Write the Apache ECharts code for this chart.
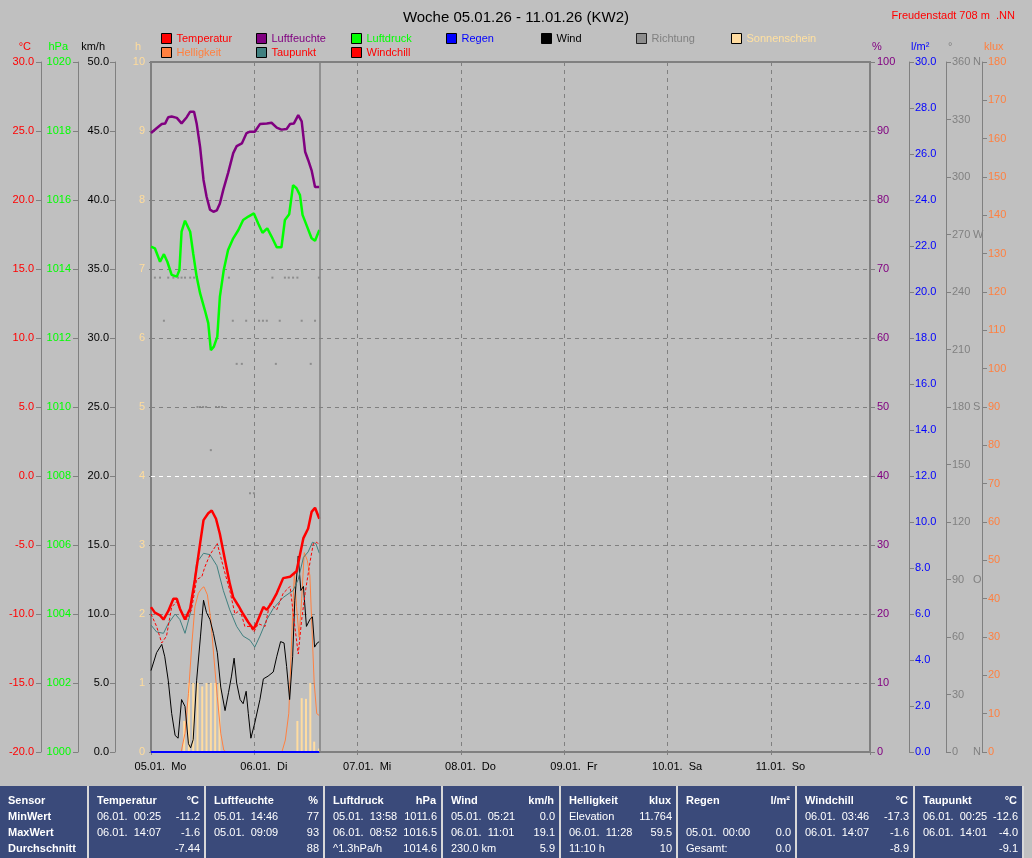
<!DOCTYPE html>
<html>
<head>
<meta charset="utf-8">
<script src="https://cdn.jsdelivr.net/npm/echarts/dist/echarts.min.js"></script>
<style>
  html, body { margin: 0; padding: 0; background: #c0c0c0; }
  #chart { width: 1032px; height: 858px; }
</style>
</head>
<body>
<div id="chart"></div>
<script>
// Zeit in Stunden ab 05.01. 00:00
const dayLabels = ['05.01.  Mo', '06.01.  Di', '07.01.  Mi', '08.01.  Do', '09.01.  Fr', '10.01.  Sa', '11.01.  So'];

const tempData = [[0,-9.5],[0.9,-9.9],[2.1,-10.1],[2.9,-10.4],[4.0,-9.8],[5.2,-8.9],[6.0,-8.9],[6.7,-9.6],[7.9,-10.4],[9.1,-9.6],[10.2,-7.5],[11.4,-4.9],[12.2,-3.2],[13.3,-2.7],[14.1,-2.5],[15.1,-3.1],[16.0,-4.2],[17.2,-6.1],[18.3,-7.8],[19.1,-8.8],[20.3,-9.4],[21.4,-10.0],[22.6,-10.6],[23.8,-11.1],[24.5,-10.7],[26.1,-9.5],[26.9,-9.7],[28.0,-9.2],[29.2,-8.5],[30.7,-7.4],[32.3,-7.3],[33.8,-6.9],[34.6,-5.7],[35.4,-4.5],[36.5,-3.8],[37.3,-2.6],[38.1,-2.3],[39.1,-3.1]];

const dewData = [[0,-10.8],[1.3,-11.3],[2.9,-11.4],[4.0,-10.7],[5.6,-10.0],[6.7,-10.4],[7.9,-11.4],[9.1,-10.0],[10.6,-6.3],[12.2,-5.6],[13.7,-5.7],[15.3,-6.5],[16.8,-8.3],[18.3,-9.7],[19.9,-10.9],[21.4,-11.6],[23.0,-11.9],[24.1,-12.4],[25.3,-11.6],[26.9,-10.4],[28.4,-9.6],[30.7,-8.8],[33.0,-8.3],[34.2,-7.5],[35.4,-5.9],[36.5,-5.5],[37.5,-4.8],[38.3,-4.9],[39.1,-5.6]];

const chillData = [[0,-10.0],[1.3,-10.9],[2.5,-12.1],[3.6,-11.6],[4.8,-9.5],[6.0,-9.1],[7.1,-10.0],[8.3,-10.4],[9.4,-9.7],[10.6,-7.5],[11.8,-7.3],[12.5,-6.6],[13.7,-5.7],[15.4,-4.9],[16.8,-6.6],[18.3,-8.3],[19.5,-10.0],[20.7,-9.7],[21.8,-10.9],[23.0,-10.9],[23.9,-11.3],[24.9,-10.7],[26.5,-10.9],[27.6,-9.2],[29.2,-9.7],[30.7,-8.5],[32.3,-8.0],[33.4,-10.9],[34.2,-12.9],[35.0,-10.4],[35.8,-8.5],[36.9,-6.3],[37.7,-4.9],[38.5,-4.8],[39.1,-5.0]];

const humData = [[0,89.7],[1.3,90.4],[2.5,91.0],[3.3,91.1],[4.0,92.0],[4.8,92.1],[6.0,91.9],[7.1,91.1],[8.3,92.0],[9.1,92.8],[10.0,92.8],[10.6,91.1],[11.4,87.7],[12.2,82.9],[12.9,80.5],[13.7,78.6],[14.5,78.3],[15.3,78.5],[16.0,79.5],[16.8,81.5],[17.9,83.9],[19.1,86.8],[19.9,87.8],[21.1,88.2],[22.2,89.7],[23.0,89.9],[24.1,89.9],[25.3,91.0],[26.9,91.1],[28.0,91.2],[29.2,90.5],[30.3,90.2],[31.5,90.3],[32.3,91.0],[33.2,91.1],[34.2,92.3],[35.0,91.4],[35.8,87.0],[36.5,85.8],[37.3,84.3],[38.1,81.9],[39.1,81.9]];

const presData = [[0,1014.65],[0.9,1014.6],[2.1,1014.21],[3.0,1014.43],[3.8,1014.21],[4.8,1013.83],[6.0,1013.78],[6.6,1013.97],[7.1,1015.08],[7.9,1015.4],[9.1,1015.08],[9.8,1014.45],[10.6,1013.78],[11.4,1013.3],[12.5,1012.81],[13.3,1012.43],[13.9,1011.65],[14.6,1011.75],[15.4,1012.04],[16.0,1013.2],[16.9,1013.97],[17.9,1014.55],[19.1,1014.89],[20.3,1015.13],[21.4,1015.42],[22.6,1015.52],[23.9,1015.61],[24.9,1015.32],[25.9,1015.05],[27.0,1015.18],[28.0,1014.94],[29.2,1014.63],[30.3,1014.63],[31.1,1015.42],[32.1,1015.59],[33.0,1016.43],[33.8,1016.34],[34.6,1016.14],[35.2,1015.57],[36.1,1015.28],[37.3,1014.89],[38.1,1014.82],[39.1,1015.13]];

const windData = [[0,5.9],[1.3,7.2],[2.5,7.8],[3.2,6.9],[4.0,5.2],[4.8,2.8],[5.6,1.2],[6.3,1.0],[7.1,3.8],[7.9,3.3],[8.7,0.6],[9.2,0.3],[9.8,0.9],[10.6,5.2],[11.5,8.4],[12.2,11.0],[12.9,10.1],[13.7,9.6],[14.5,8.6],[15.4,7.2],[16.2,4.7],[17.2,3.0],[18.0,4.3],[18.7,5.5],[19.3,6.8],[19.9,5.0],[20.7,3.8],[21.4,3.5],[22.1,4.4],[22.6,2.8],[23.2,1.0],[24.1,2.1],[25.3,3.8],[26.1,5.3],[27.2,5.5],[28.4,5.8],[29.2,6.9],[30.1,8.0],[30.9,7.9],[31.5,6.2],[32.2,3.8],[32.9,6.9],[33.4,11.0],[34.2,14.2],[34.8,11.7],[35.4,12.0],[36.1,9.1],[36.9,9.6],[37.5,9.8],[38.0,7.6],[38.6,7.9],[39.1,8.0]];

const dirData = [[0.9,247.5],[2.1,247.5],[4.0,247.5],[5.2,247.5],[6.3,247.5],[7.1,247.5],[7.9,247.5],[9.1,247.5],[10.0,247.5],[18.1,247.5],[28.2,247.5],[31.1,247.5],[32.0,247.5],[33.0,247.5],[34.0,247.5],[39.0,247.5],
  [3.0,225],[19.0,225],[22.1,225],[25.1,225],[26.0,225],[26.9,225],[29.9,225],[35.0,225],[38.1,225],
  [19.9,202.5],[21.1,202.5],[29.0,202.5],[37.1,202.5],
  [10.8,180],[11.4,180],[12.1,180],[12.8,180],[15.1,180],[15.8,180],[16.5,180],
  [13.9,157.5],[23.0,135],[23.9,135]];

const sunData = [[7.7,0.45],[8.8,1.0],[9.8,1.0],[10.8,1.0],[11.9,0.95],[12.9,1.0],[13.9,1.0],[14.9,1.0],[15.9,1.0],[34.0,0.45],[35.0,0.78],[36.0,0.77],[37.0,1.0],[37.9,0.15],[39.0,0.05]];

const brightData = [[0,0],[7.0,0],[7.9,4.9],[8.7,15.3],[9.5,28.4],[10.2,37.9],[11.0,41.4],[11.8,42.7],[12.3,43.1],[13.1,41.0],[13.9,34.4],[14.6,24.8],[15.4,14.4],[16.2,4.9],[16.9,0.5],[17.5,0],[30.4,0],[31.2,3.1],[32.0,10.1],[32.7,30],[33.3,47],[33.8,38],[34.4,30],[35.0,40],[35.6,52],[36.3,50],[36.9,46],[37.4,32],[37.9,18],[38.5,10],[39.1,9.5]];

const rainData = [[0,0],[39.1,0]];

const nowHour = 39.1;

// Legende: Name, Textfarbe
const legendNames = ['Temperatur', 'Luftfeuchte', 'Luftdruck', 'Regen', 'Wind', 'Richtung', 'Sonnenschein', 'Helligkeit', 'Taupunkt', 'Windchill'];
const legendTextColors = ['#ff0000', '#800080', '#00ff00', '#0000ff', '#000000', '#808080', '#ffe0a0', '#ff8040', '#ff0000', '#ff0000'];

// Tabelle unten
const tableCols = [
  { title: 'Sensor', unit: '', rows: [['MinWert', ''], ['MaxWert', ''], ['Durchschnitt', '']] },
  { title: 'Temperatur', unit: '°C', rows: [['06.01.  00:25', '-11.2'], ['06.01.  14:07', '-1.6'], ['', '-7.44']] },
  { title: 'Luftfeuchte', unit: '%', rows: [['05.01.  14:46', '77'], ['05.01.  09:09', '93'], ['', '88']] },
  { title: 'Luftdruck', unit: 'hPa', rows: [['05.01.  13:58', '1011.6'], ['06.01.  08:52', '1016.5'], ['^1.3hPa/h', '1014.6']] },
  { title: 'Wind', unit: 'km/h', rows: [['05.01.  05:21', '0.0'], ['06.01.  11:01', '19.1'], ['230.0 km', '5.9']] },
  { title: 'Helligkeit', unit: 'klux', rows: [['Elevation', '11.764'], ['06.01.  11:28', '59.5'], ['11:10 h', '10']] },
  { title: 'Regen', unit: 'l/m²', rows: [['', ''], ['05.01.  00:00', '0.0'], ['Gesamt:', '0.0']] },
  { title: 'Windchill', unit: '°C', rows: [['06.01.  03:46', '-17.3'], ['06.01.  14:07', '-1.6'], ['', '-8.9']] },
  { title: 'Taupunkt', unit: '°C', rows: [['06.01.  00:25', '-12.6'], ['06.01.  14:01', '-4.0'], ['', '-9.1']] }
];
const panelEdges = [0, 89, 206, 325, 443, 561, 678, 797, 915, 1024];

const FONT = 'Liberation Sans, Arial, sans-serif';

function buildTable() {
  const els = [{ type: 'rect', shape: { x: 0, y: 786, width: 1024, height: 72 }, style: { fill: '#d8d8d8' }, silent: true }];
  const rowY = [801, 817, 833, 849];
  tableCols.forEach(function (col, i) {
    const x0 = panelEdges[i];
    const x1 = panelEdges[i + 1] - 2;
    els.push({ type: 'rect', shape: { x: x0, y: 786, width: x1 - x0, height: 72 }, style: { fill: '#3a4a7a' }, silent: true });
    els.push({ type: 'text', x: x0 + 8, y: rowY[0], style: { text: col.title, fill: '#fff', font: 'bold 11px ' + FONT, verticalAlign: 'middle' } });
    if (col.unit) {
      els.push({ type: 'text', x: x1 - 5, y: rowY[0], style: { text: col.unit, fill: '#fff', font: 'bold 11px ' + FONT, align: 'right', verticalAlign: 'middle' } });
    }
    col.rows.forEach(function (r, j) {
      const f = i === 0 ? 'bold 11px ' + FONT : '11px ' + FONT;
      els.push({ type: 'text', x: x0 + 8, y: rowY[j + 1], style: { text: r[0], fill: '#fff', font: f, verticalAlign: 'middle' } });
      els.push({ type: 'text', x: x1 - 4, y: rowY[j + 1], style: { text: r[1], fill: '#fff', font: f, align: 'right', verticalAlign: 'middle' } });
    });
  });
  return els;
}

function buildLegends() {
  return legendNames.map(function (name, i) {
    const row = i < 7 ? 0 : 1;
    const col = i < 7 ? i : i - 7;
    return {
      left: 161 + col * 95, top: row ? 47 : 33, padding: 0,
      icon: 'rect', itemWidth: 10, itemHeight: 10, selectedMode: false,
      itemStyle: { borderColor: '#000', borderWidth: 1, borderType: 'solid' },
      textStyle: { fontSize: 11, fontFamily: FONT, color: legendTextColors[i] },
      data: [name]
    };
  });
}

function yAx(opt) {
  const base = {
    type: 'value',
    nameLocation: 'end',
    nameGap: 10,
    axisLine: { show: true, onZero: false, lineStyle: { color: '#808080', width: 1 } },
    axisTick: { show: true, length: 5, lineStyle: { color: '#808080' } },
    splitLine: { show: false }
  };
  const o = Object.assign(base, opt);
  o.axisLine = Object.assign({ onZero: false }, o.axisLine);
  return o;
}

function labelStyle(color, fmt, margin) {
  return { color: color, fontSize: 11, fontFamily: FONT, margin: margin || 7, formatter: fmt, showMinLabel: true, showMaxLabel: true };
}
function nameStyle(color, side) {
  return side === 'left'
    ? { color: color, fontSize: 11, fontFamily: FONT, align: 'right', padding: [0, 10, 0, 0] }
    : { color: color, fontSize: 11, fontFamily: FONT, align: 'left', padding: [0, 0, 0, 2] };
}

const dirNames = { 0: 'N', 90: 'O', 180: 'S', 270: 'W', 360: 'N' };

const chart = echarts.init(document.getElementById('chart'));
chart.setOption({
  animation: false,
  backgroundColor: '#c0c0c0',
  title: [
    { text: 'Woche 05.01.26 - 11.01.26 (KW2)', left: 'center', top: 5, textStyle: { fontSize: 15, fontWeight: 'normal', color: '#000', fontFamily: FONT } },
    { text: 'Freudenstadt 708 m  .NN', right: 12, top: 5, textStyle: { fontSize: 11, fontWeight: 'normal', color: '#ff0000', fontFamily: FONT } }
  ],
  legend: buildLegends(),
  grid: { left: 151, right: 162, top: 62, bottom: 106, show: true, borderColor: '#808080', borderWidth: 2, backgroundColor: 'transparent' },
  xAxis: {
    type: 'value', min: 0, max: 167, interval: 24,
    axisLine: { show: true, onZero: false, lineStyle: { color: '#808080', width: 2 } },
    axisTick: { show: true, length: 5, lineStyle: { color: '#808080', type: [3, 2] } },
    axisLabel: {
      color: '#000', fontSize: 11, fontFamily: FONT, margin: 9, align: 'center', padding: [0, 0, 0, 19],
      formatter: function (v) { return v % 24 === 0 && v / 24 < dayLabels.length ? dayLabels[v / 24] : ''; }
    },
    splitLine: { show: true, lineStyle: { color: '#808080', type: [4, 4], width: 1 } }
  },
  yAxis: [
    yAx({ name: '°C', position: 'left', offset: 110, min: -20, max: 30, interval: 5,
      nameTextStyle: nameStyle('#ff0000', 'left'), axisLabel: labelStyle('#ff0000', function (v) { return v.toFixed(1); }) }),
    yAx({ name: 'hPa', position: 'left', offset: 73, min: 1000, max: 1020, interval: 2,
      nameTextStyle: nameStyle('#00ff00', 'left'), axisLabel: labelStyle('#00ff00', function (v) { return String(v); }) }),
    yAx({ name: 'km/h', position: 'left', offset: 36, min: 0, max: 50, interval: 5,
      nameTextStyle: nameStyle('#000000', 'left'), axisLabel: labelStyle('#000000', function (v) { return v.toFixed(1); }, 6) }),
    yAx({ name: 'h', position: 'left', offset: 0, min: 0, max: 10, interval: 1,
      axisLine: { show: false }, axisTick: { show: true, length: 4, lineStyle: { color: '#808080', type: [2, 2] } },
      nameTextStyle: nameStyle('#ffdc9c', 'left'), axisLabel: labelStyle('#ffdc9c', function (v) { return String(v); }, 6),
      splitLine: { show: true, lineStyle: { color: '#808080', type: [4, 4], width: 1 } } }),
    yAx({ name: '%', position: 'right', offset: 0, min: 0, max: 100, interval: 10,
      axisLine: { show: false },
      nameTextStyle: nameStyle('#800080', 'right'), axisLabel: labelStyle('#800080', function (v) { return String(v); }) }),
    yAx({ name: 'l/m²', position: 'right', offset: 39, min: 0, max: 30, interval: 2,
      nameTextStyle: nameStyle('#0000ff', 'right'), axisLabel: labelStyle('#0000ff', function (v) { return v.toFixed(1); }, 6) }),
    yAx({ name: '°', position: 'right', offset: 76, min: 0, max: 360, interval: 30,
      nameTextStyle: nameStyle('#808080', 'right'),
      axisLabel: Object.assign(labelStyle('#808080', function (v) {
        return dirNames[v] !== undefined ? '{n|' + v + '}' + dirNames[v] : String(v);
      }, 6), { rich: { n: { width: 21, color: '#808080', fontSize: 11, fontFamily: FONT } } }) }),
    yAx({ name: 'klux', position: 'right', offset: 112, min: 0, max: 180, interval: 10,
      nameTextStyle: nameStyle('#ff8040', 'right'), axisLabel: labelStyle('#ff8040', function (v) { return String(v); }, 6) })
  ],
  series: [
    { name: 'Sonnenschein', type: 'bar', yAxisIndex: 3, data: sunData, barWidth: 2, color: '#ffdca0', itemStyle: { color: '#ffdca0' } },
    { name: 'Helligkeit', type: 'line', yAxisIndex: 7, data: brightData, showSymbol: false, color: '#ff8040', lineStyle: { width: 1 } },
    { name: 'Richtung', type: 'scatter', yAxisIndex: 6, data: dirData, symbol: 'rect', symbolSize: 2, color: '#808080' },
    { name: 'Wind', type: 'line', yAxisIndex: 2, data: windData, showSymbol: false, color: '#000000', lineStyle: { width: 1 } },
    { name: 'Regen', type: 'line', yAxisIndex: 5, data: rainData, showSymbol: false, color: '#0000ff', lineStyle: { width: 2 } },
    { name: 'Taupunkt', type: 'line', yAxisIndex: 0, data: dewData, showSymbol: false, color: '#408080', lineStyle: { width: 1 } },
    { name: 'Windchill', type: 'line', yAxisIndex: 0, data: chillData, showSymbol: false, color: '#ff0000', lineStyle: { width: 1, type: [3, 2] } },
    { name: 'Luftdruck', type: 'line', yAxisIndex: 1, data: presData, showSymbol: false, color: '#00ff00', lineStyle: { width: 2.5 } },
    { name: 'Luftfeuchte', type: 'line', yAxisIndex: 4, data: humData, showSymbol: false, color: '#800080', lineStyle: { width: 2.5 } },
    { name: 'Temperatur', type: 'line', yAxisIndex: 0, data: tempData, showSymbol: false, color: '#ff0000', lineStyle: { width: 2.5 },
      markLine: {
        silent: true, symbol: ['none', 'none'], label: { show: false },
        data: [
          { yAxis: 0, lineStyle: { color: '#ffffff', type: [4, 4], width: 1 } },
          { xAxis: nowHour, lineStyle: { color: '#808080', type: 'solid', width: 1.5 } }
        ]
      } }
  ],
  graphic: buildTable()
});
</script>
</body>
</html>
